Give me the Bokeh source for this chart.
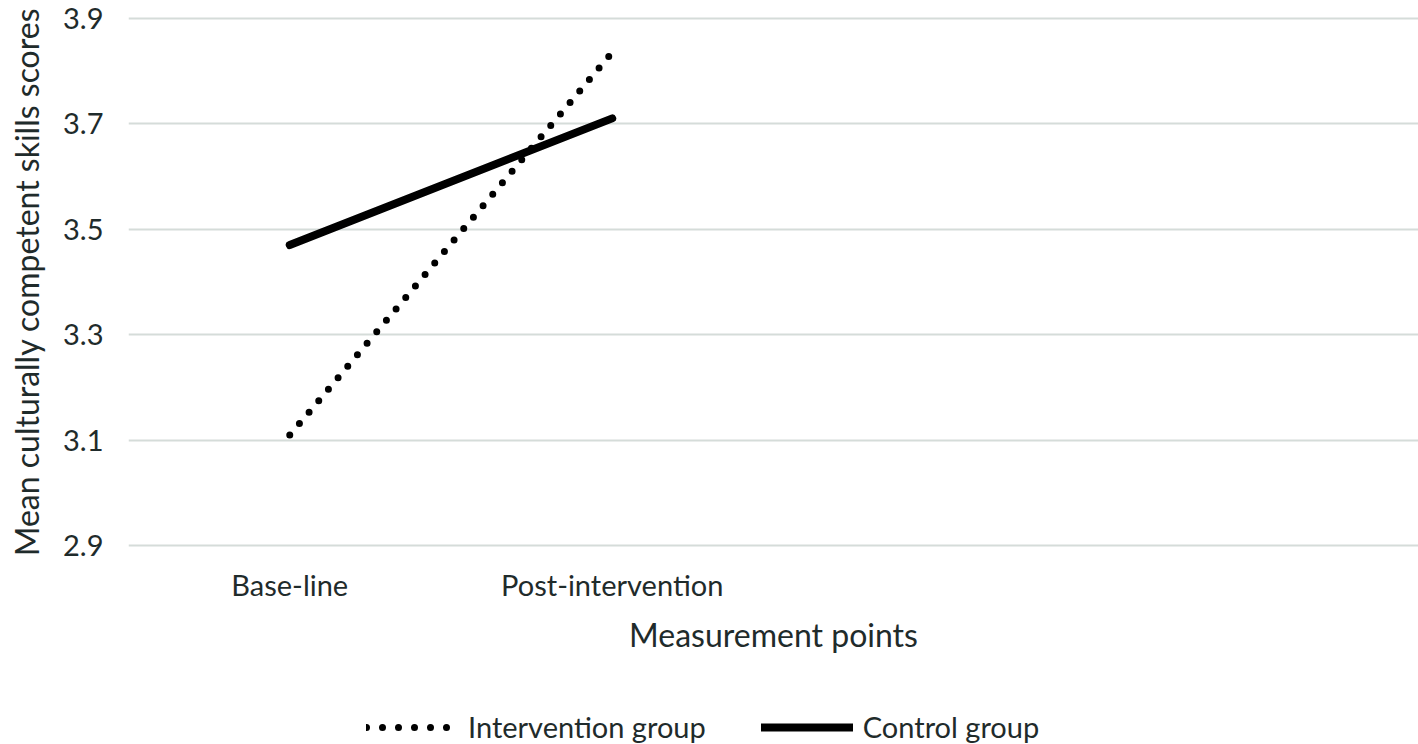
from bokeh.plotting import figure
from bokeh.layouts import column
from bokeh.models import Legend, LegendItem, FixedTicker, Range1d
from bokeh.embed import file_html
from bokeh.resources import INLINE

categories = ["Base-line", "Post-intervention", " ", "  "]
measured = ["Base-line", "Post-intervention"]
intervention = [3.11, 3.835]
control = [3.47, 3.71]
y_ticks = [2.9, 3.1, 3.3, 3.5, 3.7, 3.9]
series_names = ["Intervention group", "Control group"]

FONT = "Lato"
TXT = "#1f2b2b"
W = 1418

p = figure(x_range=categories, y_range=Range1d(2.897, 3.903),
           width=W, height=690, output_backend="svg", toolbar_location=None,
           min_border_left=128, min_border_right=0, min_border_top=16, min_border_bottom=143)
p.outline_line_color = None
p.border_fill_color = "white"
p.xgrid.grid_line_color = None
p.ygrid.grid_line_color = "#d5dcd9"
p.ygrid.grid_line_width = 2
p.yaxis.ticker = FixedTicker(ticks=y_ticks)

for ax in (p.xaxis[0], p.yaxis[0]):
    ax.axis_line_color = None
    ax.major_tick_line_color = None
    ax.minor_tick_line_color = None
    ax.major_label_text_font = FONT
    ax.major_label_text_font_size = "29px"
    ax.major_label_text_color = TXT
    ax.axis_label_text_font = FONT
    ax.axis_label_text_font_size = "32px"
    ax.axis_label_text_font_style = "normal"
    ax.axis_label_text_color = TXT

p.xaxis.axis_label = "Measurement points"
p.xaxis.major_label_standoff = 13
p.xaxis.axis_label_standoff = 10
p.yaxis.axis_label = "Mean culturally competent skills scores"
p.yaxis.major_label_standoff = 19
p.yaxis.axis_label_standoff = 14

p.line(measured, intervention, line_color="black", line_width=7,
       line_dash="0 15", line_cap="round")
p.line(measured, control, line_color="black", line_width=8, line_cap="round")

# legend strip
q = figure(x_range=categories, y_range=Range1d(2.897, 3.903),
           width=W, height=54, output_backend="svg", toolbar_location=None,
           x_axis_location=None, y_axis_location=None,
           min_border_left=0, min_border_right=0, min_border_top=0, min_border_bottom=0)
q.outline_line_color = None
q.xgrid.grid_line_color = None
q.ygrid.grid_line_color = None
l_int = q.line(measured, intervention, line_color="black", line_width=7,
               line_dash="0 16", line_cap="round", visible=False)
l_ctl = q.line(measured, control, line_color="black", line_width=8,
               line_cap="round", visible=False)

legend = Legend(items=[LegendItem(label=series_names[0], renderers=[l_int]),
                       LegendItem(label=series_names[1], renderers=[l_ctl])],
                orientation="horizontal", location=(238, 0),
                glyph_width=92, glyph_height=20, label_standoff=10, spacing=55,
                padding=0, margin=0, border_line_color=None, background_fill_alpha=0,
                inactive_fill_alpha=0,
                label_text_font=FONT, label_text_font_size="29px", label_text_color=TXT)
q.add_layout(legend, "center")

open("out.html", "w").write(file_html(column(p, q, spacing=0), INLINE))
